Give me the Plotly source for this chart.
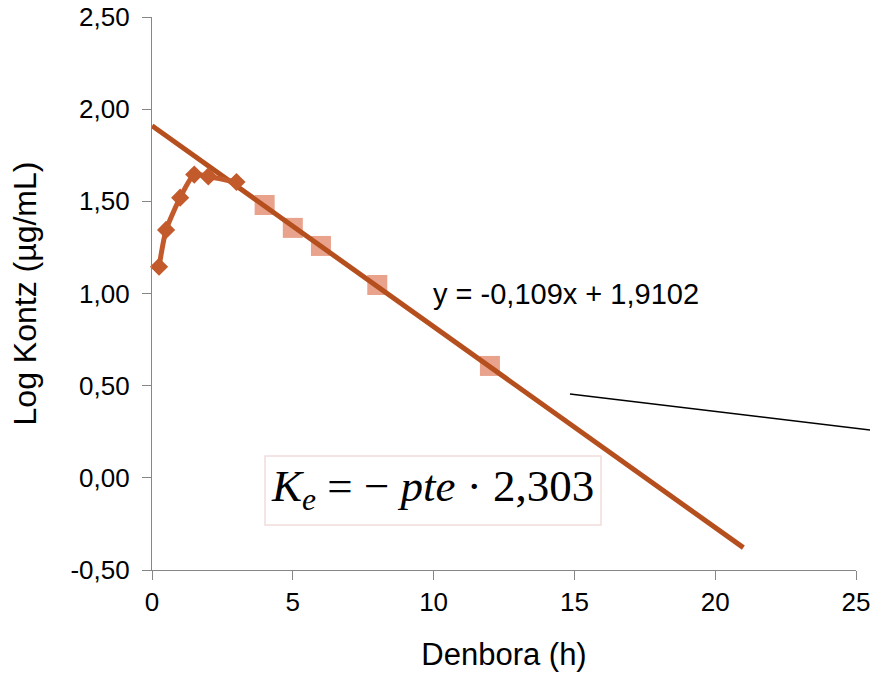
import plotly.graph_objects as go

# Absorption phase (diamonds)
t_abs = [0.25, 0.5, 1, 1.5, 2, 3]
logc_abs = [1.145, 1.345, 1.52, 1.645, 1.635, 1.605]

# Elimination phase (squares)
t_elim = [4, 5, 6, 8, 12]
logc_elim = [1.48, 1.356, 1.258, 1.046, 0.607]

# Trendline
slope = -0.109
intercept = 1.9102
trend_x = [0, 21]
trend_y = [intercept + slope * x for x in trend_x]

x_ticks = [0, 5, 10, 15, 20, 25]
y_ticks = [-0.5, 0, 0.5, 1.0, 1.5, 2.0, 2.5]
y_ticktext = ["-0,50", "0,00", "0,50", "1,00", "1,50", "2,00", "2,50"]

fig = go.Figure()

fig.add_trace(go.Scatter(
    x=t_elim, y=logc_elim, mode="markers",
    marker=dict(symbol="square", size=20, color="#E9A28C", line=dict(width=0)),
    showlegend=False, cliponaxis=False))

fig.add_trace(go.Scatter(
    x=trend_x, y=trend_y, mode="lines",
    line=dict(color="#B64F1E", width=5), showlegend=False, cliponaxis=False))

fig.add_trace(go.Scatter(
    x=t_abs, y=logc_abs, mode="lines+markers",
    line=dict(color="#C35A2B", width=5, shape="spline", smoothing=0.6),
    marker=dict(symbol="diamond", size=14, color="#C35A2B"),
    showlegend=False, cliponaxis=False))

axis_common = dict(
    showgrid=False, zeroline=False, showline=True, linecolor="#868686", linewidth=1.3,
    ticks="outside", ticklen=9, tickcolor="#868686", tickwidth=1.3,
    tickfont=dict(family="Liberation Sans, Arial", size=26, color="#000000"),
    automargin=False, ticklabeloverflow="allow",
)

fig.update_xaxes(range=[0, 25], tickvals=x_ticks,
                 title=dict(text="Denbora (h)", standoff=26,
                            font=dict(family="Liberation Sans, Arial", size=31, color="#000000")),
                 **axis_common)
fig.update_yaxes(range=[-0.5, 2.5], tickvals=y_ticks, ticktext=y_ticktext,
                 ticklabelstandoff=7,
                 title=dict(text="Log Kontz (µg/mL)", standoff=24,
                            font=dict(family="Liberation Sans, Arial", size=32, color="#000000")),
                 **axis_common)

fig.add_annotation(x=14.7, y=0.995, xref="x", yref="y", text="y = -0,109x + 1,9102",
                   showarrow=False, font=dict(family="Liberation Sans, Arial", size=29, color="#000000"))

fig.add_shape(type="line", xref="paper", yref="y",
              x0=(570 - 152) / 704, y0=0.455, x1=(872 - 152) / 704, y1=0.258,
              line=dict(color="#000000", width=1.5))

# Formula box
fig.add_shape(type="rect", xref="paper", yref="y",
              x0=(265 - 152) / 704, x1=(601 - 152) / 704, y0=0.1186, y1=-0.2558,
              line=dict(color="#F2DCDB", width=1.5), fillcolor="#FFFFFF")

fig.add_annotation(x=9.95, y=-0.06, xref="x", yref="y",
                   text="<i>K</i><sub><i>e</i></sub> = − <i>pte</i> · 2,303",
                   showarrow=False,
                   font=dict(family="Liberation Serif, Times New Roman", size=45, color="#000000"))

fig.update_layout(
    width=870, height=676,
    margin=dict(l=152, r=14, t=17, b=106),
    paper_bgcolor="#FFFFFF", plot_bgcolor="#FFFFFF",
    separators=",.",
)

fig.write_html("out.html")
